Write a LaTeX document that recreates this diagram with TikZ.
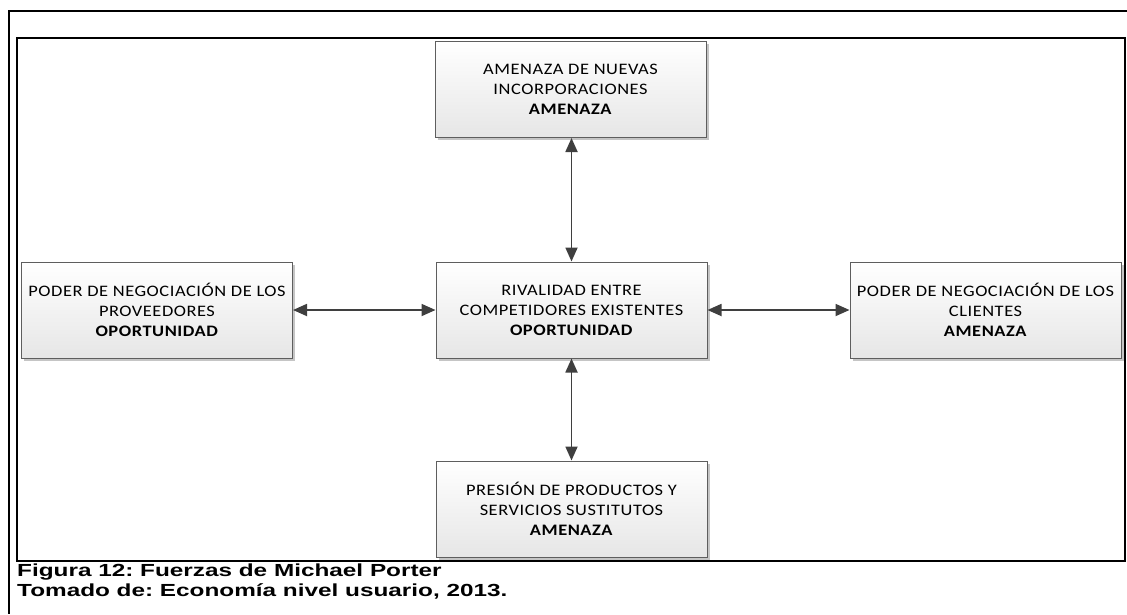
\documentclass[tikz,border=0pt]{standalone}
\usepackage{fontspec}
\usepackage{graphicx}
\setmainfont{Carlito}[LetterSpace=3]
\newfontfamily\capfont{Liberation Sans}
\usetikzlibrary{arrows.meta,shadows,positioning}
\definecolor{boxline}{HTML}{5E5E5E}
\definecolor{boxbot}{HTML}{E6E6E6}
\definecolor{arrowcol}{HTML}{3F3F3F}
\frenchspacing
\newcommand\sx[1]{\scalebox{1.15}[1]{#1}}
\newcommand\cx[1]{\scalebox{1.39}[1]{#1}}
\tikzset{
  force/.style={draw=boxline, line width=1pt, top color=white, bottom color=boxbot,
    minimum width=271pt, minimum height=96pt, inner sep=0pt, align=center,
    font=\fontsize{16}{20}\selectfont,
    drop shadow={shadow xshift=2.5pt, shadow yshift=-2.5pt, fill=black!45, opacity=0.5}},
  link/.style={draw=arrowcol, line width=1.8pt, {Triangle[length=14pt,width=12pt]}-{Triangle[length=14pt,width=12pt]}},
  frame/.style={draw=black, line width=2pt},
  inner/.style={draw=black, line width=2.5pt},
  caption/.style={anchor=base west, inner sep=0pt, font=\capfont\bfseries\fontsize{17.5}{20}\selectfont}
}
\begin{document}
\begin{tikzpicture}[x=1pt,y=-1pt]
\useasboundingbox (0,0) rectangle (1127,614);
\coordinate (ftl) at (8.5,10.5);
\coordinate (ftr) at (1127,10.5);
\coordinate (fbl) at (8.5,614);
\draw[frame] (ftr) -- (ftl) -- (fbl);
\draw[inner] (17,38) rectangle (1125,561);
\node[force] (top) at (570.5,89.5) {\sx{AMENAZA DE NUEVAS}\\\sx{INCORPORACIONES}\\\sx{\textbf{AMENAZA}}};
\node[force] (mid) at (571.5,310) {\sx{RIVALIDAD ENTRE}\\\sx{COMPETIDORES EXISTENTES}\\\sx{\textbf{OPORTUNIDAD}}};
\node[force] (left) at (157,310) {\sx{PODER DE NEGOCIACIÓN DE LOS}\\\sx{PROVEEDORES}\\\sx{\textbf{OPORTUNIDAD}}};
\node[force] (right) at (985.5,310) {\sx{PODER DE NEGOCIACIÓN DE LOS}\\\sx{CLIENTES}\\\sx{\textbf{AMENAZA}}};
\node[force] (bot) at (571.5,509) {\sx{PRESIÓN DE PRODUCTOS Y}\\\sx{SERVICIOS SUSTITUTOS}\\\sx{\textbf{AMENAZA}}};
\draw[link] (top.south -| mid.north) -- (mid.north);
\draw[link] (mid.south) -- (bot.north);
\draw[link] (left.east) -- (mid.west);
\draw[link] (mid.east) -- (right.west);
\node[caption] (cap1) at (17,576) {\cx{Figura 12: Fuerzas de Michael Porter}};
\node[caption] (cap2) at (17,596) {\cx{Tomado de: Economía nivel usuario, 2013.}};
\end{tikzpicture}
\end{document}
